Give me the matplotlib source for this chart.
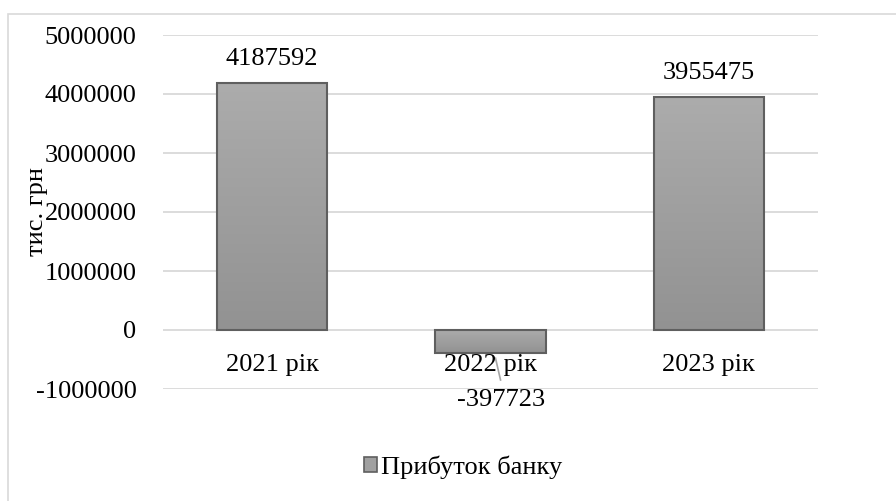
import matplotlib
matplotlib.use("Agg")
import matplotlib.pyplot as plt
import numpy as np
from matplotlib.patches import Rectangle

plt.rcParams['font.family'] = ['Liberation Serif', 'DejaVu Serif']

# Bank profit by year, thousand UAH
years = ['2021 рік', '2022 рік', '2023 рік']
profit = [4187592, -397723, 3955475]
series_name = 'Прибуток банку'
y_ticks = [-1000000, 0, 1000000, 2000000, 3000000, 4000000, 5000000]

FS = 19

fig = plt.figure(figsize=(8.96, 5.01), dpi=100)
# light outer frame of the chart area
fig.patches.append(Rectangle((8 / 896, -0.05), 1.0, 1 - 14 / 501 + 0.05,
                             transform=fig.transFigure, fill=False,
                             edgecolor='#d9d9d9', linewidth=1.2))

ax = fig.add_axes([163 / 896, 1 - 389 / 501, (818 - 163) / 896, (389 - 35) / 501])

x = np.arange(len(years))
bars = ax.bar(x, profit, width=0.505, color='none', edgecolor='#5f5f5f',
              linewidth=1.5, zorder=3, label=series_name)

# vertical grey gradient inside each bar
grad = np.linspace(0, 1, 256).reshape(-1, 1)
cmap = matplotlib.colors.LinearSegmentedColormap.from_list('g', ['#acacac', '#929292'])
for b in bars:
    x0, y0 = b.get_x(), b.get_y()
    w, h = b.get_width(), b.get_height()
    top, bot = max(y0, y0 + h), min(y0, y0 + h)
    im = ax.imshow(grad, cmap=cmap, aspect='auto', extent=[x0, x0 + w, bot, top],
                   origin='upper', zorder=2)
    im.set_clip_path(b)
ax.set_xlim(-0.5, 2.5)
ax.set_ylim(-1000000, 5000000)

ax.set_yticks(y_ticks)
ax.set_yticklabels([str(v) for v in y_ticks])
ax.yaxis.grid(True, color='#d9d9d9', linewidth=1.3, zorder=0)
ax.set_axisbelow(True)
ax.tick_params(axis='y', length=0, pad=19, labelsize=FS)
ax.set_xticks([])
for s in ax.spines.values():
    s.set_visible(False)

# category labels sit just under the zero line
for xi, name in zip(x, years):
    ax.text(xi, -590000, name, ha='center', va='center', fontsize=FS, zorder=5)

# value labels
for xi, v in zip(x, profit):
    if v >= 0:
        ax.text(xi, v + 400000, str(v), ha='center', va='center', fontsize=FS, zorder=5)
    else:
        ax.text(xi + 0.05, v - 790000, str(v), ha='center', va='center', fontsize=FS, zorder=5)
        # short leader from the bar down to its label
        ax.plot([xi + 0.023, xi + 0.046], [v - 80000, v - 450000],
                color='#a6a6a6', lw=1.2, zorder=4)

ax.set_ylabel('тис. грн', fontsize=FS)
ax.yaxis.set_label_coords(-0.176, 0.5)

# legend
handle = Rectangle((0, 0), 1, 1, facecolor='#a0a0a0', edgecolor='#5f5f5f', linewidth=1.2)
fig.legend([handle], [series_name], loc='center', bbox_to_anchor=(463 / 896, 1 - 467 / 501),
           frameon=False, fontsize=FS, handlelength=0.5, handleheight=0.5,
           handletextpad=0.15)

fig.savefig('out.png', dpi=100)
